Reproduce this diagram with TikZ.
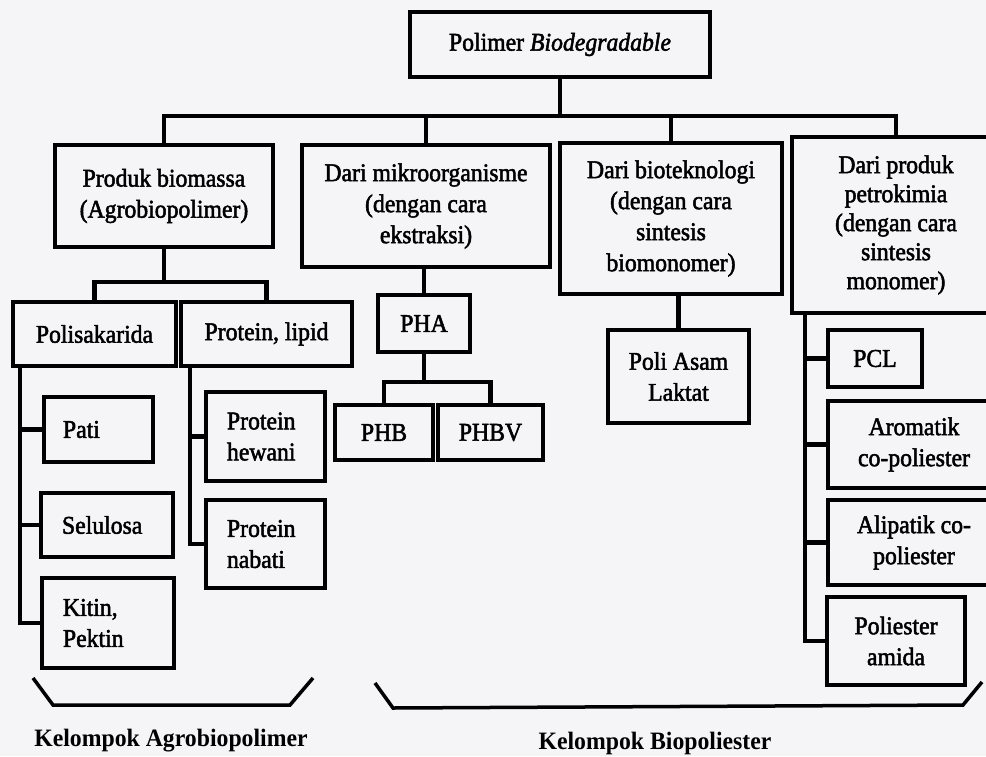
\documentclass[tikz,border=0pt]{standalone}
\usepackage{fontspec}
\setmainfont{Liberation Serif}[FakeBold=2,FakeStretch=0.93]
\newfontfamily\grpfont{Liberation Serif}[FakeStretch=0.95]
\definecolor{paper}{RGB}{245,244,246}
\begin{document}
\begin{tikzpicture}[x=1pt,y=-1pt,
  box/.style={draw=black,line width=4.5pt,inner sep=0pt,align=center,
    font=\fontsize{25.5}{31}\selectfont},
  lbox/.style={box,align=left},
  conn/.style={draw=black,line width=4.5pt,line cap=rect},
  brace/.style={draw=black,line width=3.5pt,line join=miter},
  grp/.style={font=\grpfont\fontsize{25}{29}\selectfont\bfseries,anchor=base}]
\newcommand\bx[7][]{\node[box,minimum width=#4-#2,minimum height=#5-#3,#1] (#6) at ({(#2+#4)/2},{(#3+#5)/2}) {#7};}
\fill[paper] (0,0) rectangle (986,756);
\useasboundingbox (0,0) rectangle (986,756);
\clip (0,0) rectangle (986,756);
% top
\bx{410}{12}{710}{77}{top}{Polimer \textit{Biodegradable}}
% level 1
\bx{55}{145}{273}{247}{b1}{Produk biomassa\\(Agrobiopolimer)}
\bx{302}{145}{550}{267}{b2}{Dari mikroorganisme\\(dengan cara\\ekstraksi)}
\bx{560}{143}{782}{294}{b3}{Dari bioteknologi\\(dengan cara\\sintesis\\biomonomer)}
\bx[font=\fontsize{25.5}{29}\selectfont]{792}{137}{1000}{313}{b4}{Dari produk\\petrokimia\\(dengan cara\\sintesis\\monomer)}
% level 2
\bx{13}{302}{176}{366}{poli}{Polisakarida}
\bx{181}{302}{352}{366}{prot}{Protein, lipid}
\bx{378}{295}{470}{352}{pha}{PHA}
\bx{608}{330}{749}{423}{pla}{Poli Asam\\Laktat}
% level 3
\node[lbox,inner xsep=19pt,text width=71pt,minimum height=65pt] (pati) at (98.5,429.5) {Pati};
\node[lbox,inner xsep=21pt,text width=90pt,minimum height=64pt] (sel) at (107,525) {Selulosa};
\node[lbox,inner xsep=21pt,text width=90pt,minimum height=90pt] (kitin) at (108,623) {Kitin,\\Pektin};
\node[lbox,inner xsep=21pt,text width=77pt,minimum height=89pt] (hew) at (265.5,436.5) {Protein\\hewani};
\node[lbox,inner xsep=21pt,text width=77pt,minimum height=88pt] (nab) at (265.5,544) {Protein\\nabati};
\bx{335}{405}{433}{460}{phb}{PHB}
\bx{438}{405}{543}{460}{phbv}{PHBV}
\bx{828}{330}{922}{387}{pcl}{PCL}
\bx{828}{401}{1000}{488}{aro}{Aromatik\\co-poliester}
\bx{828}{500}{1000}{585}{ali}{Alipatik co-\\poliester}
\bx{827}{597}{965}{685}{ami}{Poliester\\amida}
% connectors
\coordinate (bus) at (0,116);
\coordinate (bar2) at (0,282);
\coordinate (bar3) at (0,382);
\coordinate (sp1) at (20,0);
\coordinate (sp2) at (190,0);
\coordinate (sp4) at (805,0);
\draw[conn] (top.south) -- (top.south |- bus);
\draw[conn] (b1.north) |- (bus -| b4.north) -- (b4.north);
\draw[conn] (b2.north) -- (b2.north |- bus);
\draw[conn] (b3.north) -- (b3.north |- bus);
\draw[conn] (b1.south) -- (b1.south |- bar2);
\draw[conn] (poli.north) |- (bar2 -| prot.north) -- (prot.north);
\draw[conn] (sp1 |- poli.south) |- (kitin.west);
\draw[conn] (sp1 |- pati.west) -- (pati.west);
\draw[conn] (sp1 |- sel.west) -- (sel.west);
\draw[conn] (sp2 |- prot.south) |- (nab.west);
\draw[conn] (sp2 |- hew.west) -- (hew.west);
\draw[conn] (b2.south -| pha.north) -- (pha.north);
\draw[conn] (pha.south) -- (pha.south |- bar3);
\draw[conn] (phb.north) |- (bar3 -| phbv.north) -- (phbv.north);
\draw[conn] (b3.south -| pla.north) -- (pla.north);
\draw[conn] (sp4 |- b4.south) |- (ami.west);
\draw[conn] (sp4 |- pcl.west) -- (pcl.west);
\draw[conn] (sp4 |- aro.west) -- (aro.west);
\draw[conn] (sp4 |- ali.west) -- (ali.west);
% braces
\coordinate (la) at (33,678);
\coordinate (lb) at (53,705);
\coordinate (lc) at (290,705);
\coordinate (ld) at (313,678);
\coordinate (ra) at (375,683);
\coordinate (rb) at (393,708);
\coordinate (rc) at (963,705);
\coordinate (rd) at (982,682);
\draw[brace] (la) -- (lb) -- (lc) -- (ld);
\draw[brace] (ra) -- (rb) -- (rc) -- (rd);
\node[grp] (g1) at (171,746) {Kelompok Agrobiopolimer};
\node[grp] (g2) at (655,749) {Kelompok Biopoliester};
\end{tikzpicture}
\end{document}
